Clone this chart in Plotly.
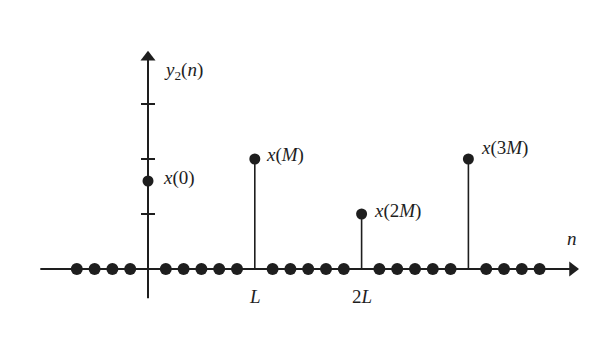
import plotly.graph_objects as go

# Data (n in sample units, L = 6)
L = 6
stem_n = [0, L, 2 * L, 3 * L]
stem_v = [1.6, 2.0, 1.0, 2.0]
stem_labels = ["<i>x</i>(0)", "<i>x</i>(<i>M</i>)", "<i>x</i>(2<i>M</i>)", "<i>x</i>(3<i>M</i>)"]
zero_n = [-4, -3, -2, -1, 1, 2, 3, 4, 5, 7, 8, 9, 10, 11, 13, 14, 15, 16, 17, 19, 20, 21, 22]
y_ticks = [1, 2, 3]
x_tick_n = [L, 2 * L]
x_tick_labels = ["<i>L</i>", "2<i>L</i>"]

INK = "#1e1e1e"
FONT = dict(family="Liberation Serif", size=19, color=INK)

W, H = 589, 330
X0, Y0 = 140, 261     # pixel of origin inside figure
SX, SY = 17.8, 55.0    # pixels per unit

fig = go.Figure()

# axes lines
fig.add_trace(go.Scatter(x=[-6.05, 23.7], y=[0, 0], mode="lines",
                         line=dict(color=INK, width=2), hoverinfo="skip"))
fig.add_trace(go.Scatter(x=[0, 0], y=[-0.53, 3.85], mode="lines",
                         line=dict(color=INK, width=2), hoverinfo="skip"))
# arrowheads
fig.add_trace(go.Scatter(x=[23.85], y=[0], mode="markers",
                         marker=dict(symbol="triangle-right", size=13, color=INK),
                         hoverinfo="skip"))
fig.add_trace(go.Scatter(x=[0], y=[3.85], mode="markers",
                         marker=dict(symbol="triangle-up", size=13, color=INK),
                         hoverinfo="skip"))

# y tick marks
fig.add_trace(go.Scatter(x=[0] * len(y_ticks), y=y_ticks, mode="markers",
                         marker=dict(symbol="line-ew", size=10, line=dict(color=INK, width=2)),
                         hoverinfo="skip"))

# stems
for n, v in zip(stem_n, stem_v):
    fig.add_trace(go.Scatter(x=[n, n], y=[0, v], mode="lines",
                             line=dict(color=INK, width=1.6), hoverinfo="skip"))
fig.add_trace(go.Scatter(x=stem_n, y=stem_v, mode="markers",
                         marker=dict(size=11, color=INK), hoverinfo="skip"))

# zero samples
fig.add_trace(go.Scatter(x=zero_n, y=[0] * len(zero_n), mode="markers",
                         marker=dict(size=12, color=INK), hoverinfo="skip"))

# labels
offs = [(0.75, 0.05), (0.5, 0.07), (0.6, 0.05), (0.6, 0.2)]
for n, v, t, (dx, dy) in zip(stem_n, stem_v, stem_labels, offs):
    fig.add_annotation(x=n + dx, y=v + dy, text=t, showarrow=False, xanchor="left",
                       yanchor="middle", font=FONT)
fig.add_annotation(x=0.8, y=3.6, text="<i>y</i><sub>2</sub>(<i>n</i>)", showarrow=False,
                   xanchor="left", yanchor="middle", font=FONT)
fig.add_annotation(x=23.8, y=0.55, text="<i>n</i>", showarrow=False, font=FONT)
for n, t in zip(x_tick_n, x_tick_labels):
    fig.add_annotation(x=n, y=-0.5, text=t, showarrow=False, font=FONT)

fig.update_layout(
    width=W, height=H, margin=dict(l=0, r=0, t=0, b=0),
    paper_bgcolor="white", plot_bgcolor="white", showlegend=False,
    xaxis=dict(range=[-X0 / SX, (W - X0) / SX], visible=False, fixedrange=True),
    yaxis=dict(range=[-(H - Y0) / SY, Y0 / SY], visible=False, fixedrange=True),
)

fig.write_html("out.html")
